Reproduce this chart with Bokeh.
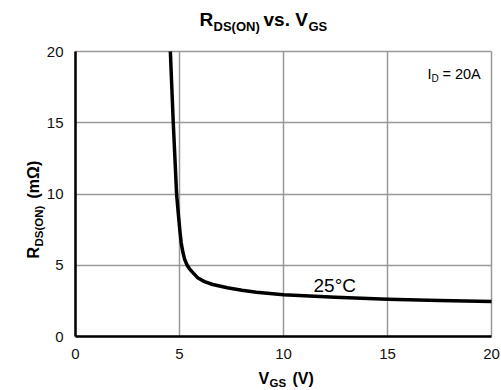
from bokeh.plotting import figure
from bokeh.models import Range1d, Label, FixedTicker
from bokeh.embed import file_html
from bokeh.resources import INLINE

# ---- data ----
vgs = [4.56, 4.70, 4.86, 4.95, 5.02, 5.08, 5.15, 5.25, 5.37, 5.48, 5.60, 5.89, 6.20, 6.60, 7.30, 8.00, 8.70, 10.0, 12.5, 15.0, 17.5, 20.0]
rds = [20.0, 15.0, 10.0, 8.50, 7.40, 6.60, 6.00, 5.40, 5.00, 4.75, 4.55, 4.10, 3.85, 3.65, 3.42, 3.24, 3.10, 2.93, 2.75, 2.62, 2.52, 2.45]
x_ticks = [0, 5, 10, 15, 20]
y_ticks = [0, 5, 10, 15, 20]
x_lim = (0, 20)
y_lim = (0, 20)

W, H = 501, 390
# pixel box of the data area (0..20 x 0..20) inside the canvas
PL, PR, PT, PB = 75, 491, 51, 336
FONT = "Liberation Sans"
SHIFT = 0.4  # baseline correction, in em

xpx = (PR - PL) / (x_lim[1] - x_lim[0])
ypx = (PB - PT) / (y_lim[1] - y_lim[0])
x_range = Range1d(x_lim[0] - PL / xpx, x_lim[1] + (W - PR) / xpx)
y_range = Range1d(y_lim[0] - (H - PB) / ypx, y_lim[1] + PT / ypx)

p = figure(width=W, height=H, output_backend="svg", toolbar_location=None,
           x_range=x_range, y_range=y_range,
           min_border_left=0, min_border_right=0,
           min_border_top=0, min_border_bottom=0)
p.background_fill_color = "white"
p.border_fill_color = "white"
p.outline_line_color = None

for ax, ticks in ((p.xaxis, x_ticks), (p.yaxis, y_ticks)):
    ax.ticker = FixedTicker(ticks=ticks)
    ax.fixed_location = 0
    ax.bounds = (0, 20)
    ax.major_tick_in = 0
    ax.major_tick_out = 0
    ax.minor_tick_in = 0
    ax.minor_tick_out = 0
    ax.axis_line_color = "black"
    ax.axis_line_width = 2.5
    ax.major_label_text_font = FONT
    ax.major_label_text_font_size = "15px"
    ax.major_label_text_color = "#111111"
    ax.major_label_standoff = 12

p.xgrid.ticker = FixedTicker(ticks=x_ticks)
p.ygrid.ticker = FixedTicker(ticks=y_ticks)
p.xgrid.bounds = x_lim
p.ygrid.bounds = y_lim
p.xgrid.cross_bounds = y_lim
p.ygrid.cross_bounds = x_lim
for g in (p.xgrid, p.ygrid):
    g.grid_line_color = "#999999"
    g.grid_line_width = 1.5
    g.level = "underlay"

p.line(vgs, rds, line_color="black", line_width=3.5, line_join="round")


def lab(text, sx, sy, size, bold=False, rotated=False):
    if rotated:
        sx -= SHIFT * size
    else:
        sy -= SHIFT * size
    p.add_layout(Label(x=sx, y=H - sy, x_units="screen", y_units="screen",
                       text=text, text_font=FONT,
                       text_font_size=f"{size}px",
                       text_font_style="bold" if bold else "normal",
                       text_align="left", text_baseline="alphabetic",
                       angle=1.5708 if rotated else 0.0, text_color="black"))


# title
lab("R", 199, 27, 19, True)
lab("DS(ON)", 213, 31, 13, True)
lab("vs. V", 263, 27, 19, True)
lab("GS", 308, 31, 13, True)

# x axis label
lab("V", 258, 384, 16, True)
lab("GS", 269, 387, 11.5, True)
lab("(V)", 292, 384, 16, True)

# y axis label (rotated)
lab("R", 39, 258, 16, True, True)
lab("DS(ON)", 43, 246, 11.5, True, True)
lab("(mΩ)", 39, 198, 16, True, True)

# annotations
lab("I", 427, 79, 14.5)
lab("D", 431, 82, 10)
lab("= 20A", 442, 79, 14.5)
lab("25°C", 313, 293, 19)

open("out.html", "w").write(file_html(p, INLINE))
